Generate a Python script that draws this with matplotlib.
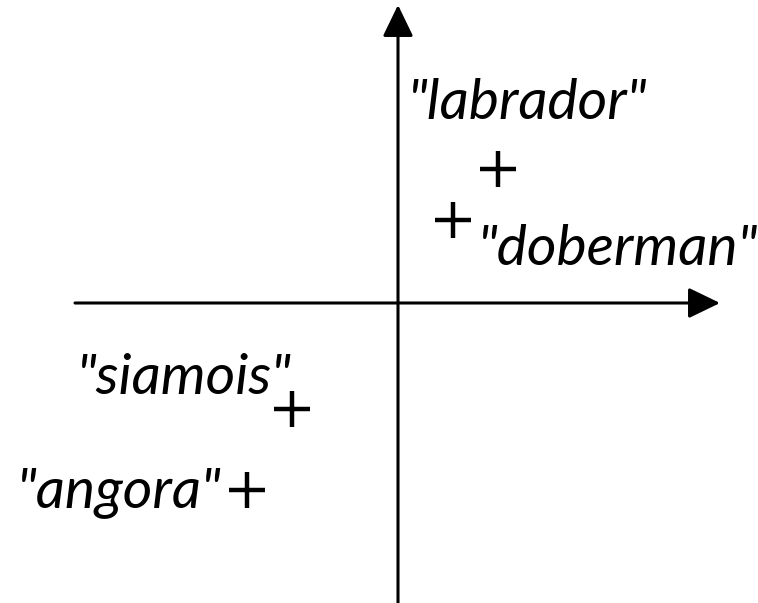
import matplotlib.pyplot as plt

# points in the plane (origin where the axes cross)
names = ['"labrador"', '"doberman"', '"siamois"', '"angora"']
xs = [1.00, 0.55, -1.06, -1.51]
ys = [1.34, 0.83, -1.06, -1.87]

# label offsets (pixels) and alignment relative to each marker
offsets = [(-90, 65), (25, -30), (0, 30), (-25, -3)]
aligns = ['left', 'left', 'right', 'right']

fig = plt.figure(figsize=(7.58, 6.03), dpi=100)
ax = fig.add_axes([0, 0, 1, 1])
ax.set_xlim(-3.98, 3.60)
ax.set_ylim(-3.00, 3.03)
ax.axis('off')

arrow = dict(arrowstyle='-|>,head_length=0.97,head_width=0.47',
             mutation_scale=20, lw=2.2, color='black', shrinkA=0, shrinkB=0)
ax.annotate('', xy=(3.22, 0), xytext=(-3.23, 0), arrowprops=arrow)
ax.annotate('', xy=(0, 2.98), xytext=(0, -3.0), arrowprops=arrow)

ax.plot(xs, ys, linestyle='none', marker='+', markersize=26,
        markeredgewidth=3.2, color='black')

for name, x, y, off, ha in zip(names, xs, ys, offsets, aligns):
    ax.annotate(name, (x, y), xytext=off, textcoords='offset pixels',
                ha=ha, va='center', fontsize=41, style='italic',
                family='Lato')

fig.savefig('out.png', dpi=100)
